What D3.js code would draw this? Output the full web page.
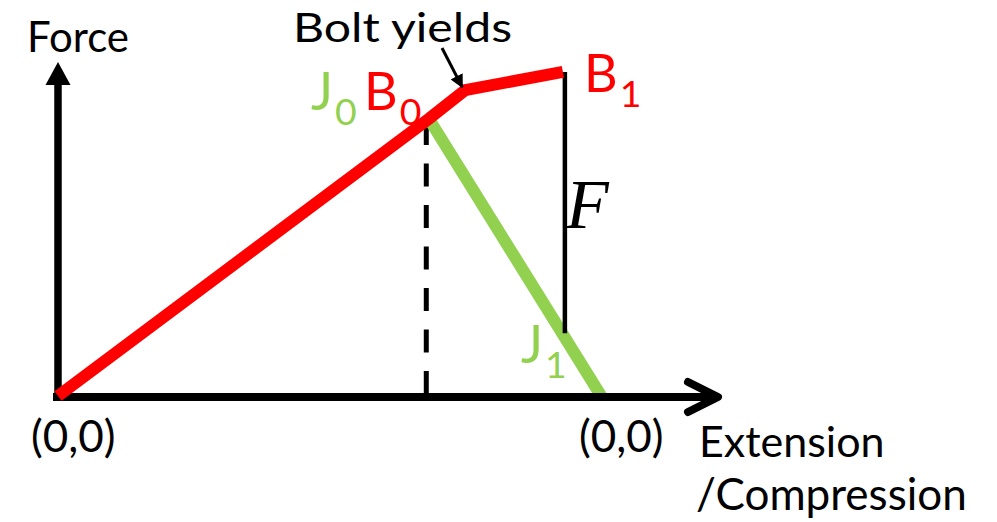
<!DOCTYPE html>
<html>
<head>
<meta charset="utf-8">
<script src="https://cdn.jsdelivr.net/npm/d3@7"></script>
<style>
  body { margin: 0; background: #fff; }
  svg { display: block; font-family: Lato, "Open Sans", sans-serif; }
</style>
</head>
<body>
<div id="chart"></div>
<script>
// bolt load line (extension vs force, arbitrary units): O -> B0 -> yield -> B1
const boltExtension = [0, 5.62, 6.17, 7.65];
const boltForce = [0, 8.4, 9.27, 9.82];

// joint compression line: J0 (same point as B0) down to zero
const jointExtension = [5.62, 8.23];
const jointForce = [8.4, 0];

// F: vertical gap between B1 and J1
const gapExtension = [7.68, 7.68];
const gapForce = [9.82, 1.9];

// dashed guide under B0
const guideExtension = [5.58, 5.58];
const guideForce = [8.3, -0.15];

// axis arrow tips
const axisTip = { extension: 10, force: 10.12 };

const config = {
    width: 997,
    height: 522,
    red: '#ff0000',
    green: '#92d050',
};

const svg = d3.select('#chart')
    .append('svg')
    .attr('width', config.width)
    .attr('height', config.height)
;

let x = d3.scaleLinear()
    .domain([0, 10])
    .range([58, 718])
;

let y = d3.scaleLinear()
    .domain([0, 10])
    .range([396, 66])
;

let line = d3.line()
    .x(d => x(d[0]))
    .y(d => y(d[1]))
;

// arrow marker for the "Bolt yields" note
svg.append('defs')
    .append('marker')
    .attr('id', 'note-head')
    .attr('viewBox', '0 0 10 10')
    .attr('refX', 9)
    .attr('refY', 5)
    .attr('markerWidth', 4.5)
    .attr('markerHeight', 4.5)
    .attr('orient', 'auto')
    .append('path')
    .attr('d', 'M0,0 L10,5 L0,10 Z')
    .attr('fill', '#000')
;

// dashed guide
svg.append('path')
    .attr('d', line(d3.zip(guideExtension, guideForce)))
    .attr('stroke', '#000')
    .attr('stroke-width', 5)
    .attr('stroke-dasharray', '23,18.5')
    .attr('fill', 'none')
;

// joint line (green)
svg.append('path')
    .attr('d', line(d3.zip(jointExtension, jointForce)))
    .attr('stroke', config.green)
    .attr('stroke-width', 12)
    .attr('fill', 'none')
;

// F gap line
svg.append('path')
    .attr('d', line(d3.zip(gapExtension, gapForce)))
    .attr('stroke', '#000')
    .attr('stroke-width', 4.5)
    .attr('fill', 'none')
;

// axes
let axes = svg.append('g')
    .attr('stroke', '#000')
    .attr('fill', 'none')
;

// y axis shaft + filled head
axes.append('line')
    .attr('x1', x(0))
    .attr('x2', x(0))
    .attr('y1', y(0) + 5)
    .attr('y2', y(axisTip.force) + 22)
    .attr('stroke-width', 7.5)
;
axes.append('path')
    .attr('d', `M${x(0)},${y(axisTip.force)} L${x(0) + 12.5},${y(axisTip.force) + 23} L${x(0) - 12.5},${y(axisTip.force) + 23} Z`)
    .attr('fill', '#000')
    .attr('stroke', 'none')
;

// x axis shaft + open head
axes.append('line')
    .attr('x1', x(0) - 5)
    .attr('x2', x(axisTip.extension) - 2)
    .attr('y1', y(0) + 1)
    .attr('y2', y(0) + 1)
    .attr('stroke-width', 8)
;
axes.append('path')
    .attr('d', `M${x(axisTip.extension) - 30},${y(0) - 14} L${x(axisTip.extension)},${y(0) + 1} L${x(axisTip.extension) - 30},${y(0) + 16}`)
    .attr('stroke-width', 8)
    .attr('stroke-linecap', 'round')
    .attr('stroke-linejoin', 'round')
;

// bolt line (red)
svg.append('path')
    .attr('d', line(d3.zip(boltExtension, boltForce)))
    .attr('stroke', config.red)
    .attr('stroke-width', 12)
    .attr('stroke-linejoin', 'miter')
    .attr('fill', 'none')
;

// "Bolt yields" note arrow
svg.append('line')
    .attr('x1', 442)
    .attr('y1', 48)
    .attr('x2', x(boltExtension[2]) - 3)
    .attr('y2', y(boltForce[2]) - 3)
    .attr('stroke', '#000')
    .attr('stroke-width', 3)
    .attr('marker-end', 'url(#note-head)')
;

// labels
function addLabel(txt, px, py, size, color, sub) {
    let t = svg.append('text')
        .attr('x', px)
        .attr('y', py)
        .attr('font-size', size)
        .attr('fill', color)
        .text(txt)
    ;
    if (sub) {
        t.append('tspan')
            .attr('dx', 2)
            .attr('dy', 15)
            .attr('font-size', size * 0.72)
            .text(sub)
        ;
    }
    return t;
}

addLabel('Force', 27, 52, 42, '#000');
addLabel('Bolt yields', 293, 42, 40, '#000')
    .attr('textLength', 219)
    .attr('lengthAdjust', 'spacingAndGlyphs')
;
addLabel('J', 311, 110, 52, config.green, '0');
addLabel('B', 364, 110, 52, config.red, '0');
addLabel('B', 584, 92, 52, config.red, '1');
addLabel('J', 521, 363, 52, config.green, '1');

svg.append('text')
    .attr('x', 566)
    .attr('y', 228)
    .attr('font-family', '"Liberation Serif", serif')
    .attr('font-style', 'italic')
    .attr('font-size', 70)
    .attr('fill', '#000')
    .text('F')
;

addLabel('(0,0)', 31, 452, 44, '#000');
addLabel('(0,0)', 579, 452, 44, '#000');
addLabel('Extension', 699, 457, 43, '#000');
addLabel('/Compression', 696, 510, 44, '#000');
</script>
</body>
</html>
